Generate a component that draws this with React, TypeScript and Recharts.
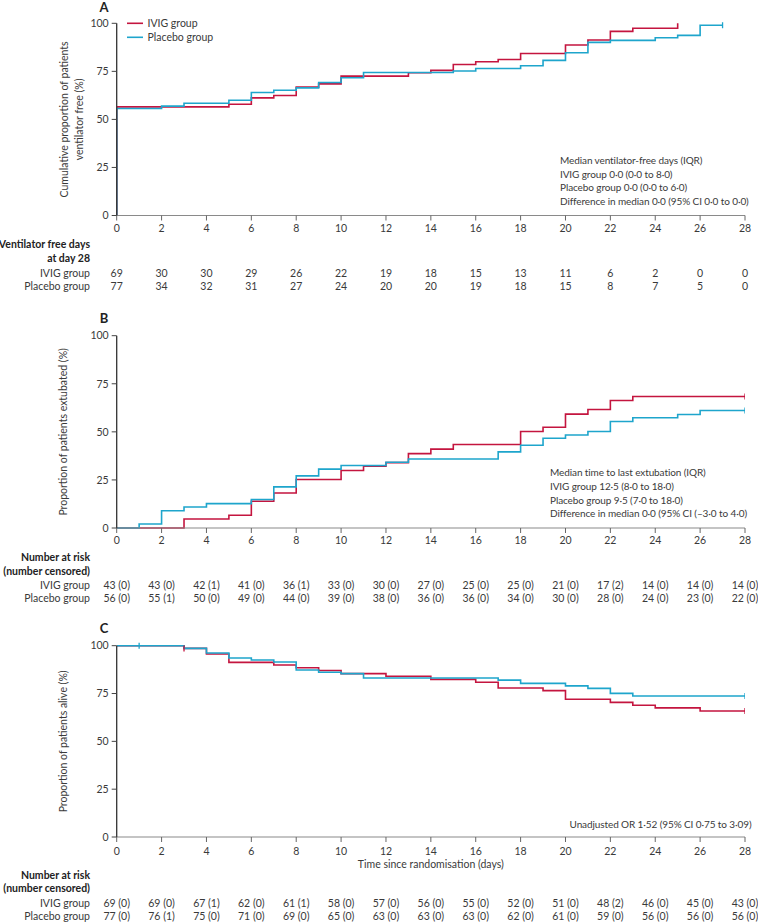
import React from 'react';
import { LineChart, Line, XAxis, YAxis, Customized } from 'recharts';

const FONT = "Lato, 'Noto Sans', sans-serif";
const FS = 10.5;
const FS_NOTE = 10;
const RED = '#c4153f';
const BLUE = '#1ea5cc';
const TXT = '#3a3a3a';

const DAY_TICKS = [0, 2, 4, 6, 8, 10, 12, 14, 16, 18, 20, 22, 24, 26, 28];
const PCT_TICKS = [0, 25, 50, 75, 100];

// Panel A: cumulative proportion ventilator free
const A_IVIG: number[][] = [[0, 0], [0, 56.5], [5, 57.9], [6, 61.2], [7, 62.4], [8, 66.8], [9, 68.5], [10, 72.5], [13, 74.3], [14, 75.5], [15, 78.6], [16, 80], [17, 81.2], [18, 84.3], [20, 88.7], [21, 91.3], [22, 95.8], [23, 97.4], [25, 100]];
const A_PLAC: number[][] = [[0, 0], [0, 55.7], [2, 56.9], [3, 58.4], [5, 60], [6, 64], [7, 65.2], [8, 66.4], [9, 69.2], [10, 71.7], [11, 74.4], [15, 75.2], [16, 76.5], [18, 77.9], [19, 80.7], [20, 84.7], [21, 90.1], [22, 91.1], [24, 92.5], [25, 93.7], [26, 99], [27, 99]];
const A_IVIG_CENS: number[] = [];
const A_PLAC_CENS: number[] = [27];
const A_IVIG_TBL = [69, 30, 30, 29, 26, 22, 19, 18, 15, 13, 11, 6, 2, 0, 0];
const A_PLAC_TBL = [77, 34, 32, 31, 27, 24, 20, 20, 19, 18, 15, 8, 7, 5, 0];

// Panel B: proportion extubated
const B_IVIG: number[][] = [[0, 0], [3, 4.7], [5, 6.6], [6, 13.9], [7, 18.2], [8, 25.2], [10, 29.9], [11, 32.1], [12, 34], [13, 38.7], [14, 41], [15, 43.4], [18, 50.2], [19, 52.4], [20, 59.2], [21, 61.6], [22, 66.3], [23, 68.4], [28, 68.4]];
const B_PLAC: number[][] = [[0, 0], [1, 2.1], [2, 9], [3, 10.9], [4, 12.7], [6, 14.8], [7, 21.4], [8, 27.1], [9, 30.6], [10, 32.5], [12, 34.2], [13, 35.9], [17, 39.6], [18, 43], [19, 46.7], [20, 48.4], [21, 50.2], [22, 55.4], [23, 57.3], [25, 59], [26, 61.1], [28, 61.1]];
const B_IVIG_CENS: number[] = [28];
const B_PLAC_CENS: number[] = [28];
const B_IVIG_RISK = [43, 43, 42, 41, 36, 33, 30, 27, 25, 25, 21, 17, 14, 14, 14];
const B_IVIG_CNS = [0, 0, 1, 0, 1, 0, 0, 0, 0, 0, 0, 2, 0, 0, 0];
const B_PLAC_RISK = [56, 55, 50, 49, 44, 39, 38, 36, 36, 34, 30, 28, 24, 23, 22];
const B_PLAC_CNS = [0, 1, 0, 0, 0, 0, 0, 0, 0, 0, 0, 0, 0, 0, 0];

// Panel C: proportion alive
const C_IVIG: number[][] = [[0, 100], [3, 98.6], [4, 95.7], [5, 91.3], [7, 89.9], [8, 88.5], [9, 87], [10, 85.4], [12, 84], [14, 82.4], [16, 80.9], [17, 77.9], [19, 76.5], [20, 72], [22, 70.4], [23, 68.9], [24, 67.5], [26, 65.9], [28, 65.9]];
const C_PLAC: number[][] = [[0, 100], [1, 100], [3, 98.6], [4, 96.2], [5, 93.6], [6, 92.5], [7, 91.5], [8, 87.3], [9, 86.1], [10, 85.4], [11, 83.1], [17, 82], [18, 80.3], [20, 79], [21, 77.7], [22, 75.1], [23, 73.7], [28, 73.7]];
const C_IVIG_CENS: number[] = [3, 28];
const C_PLAC_CENS: number[] = [1, 28];
const C_IVIG_RISK = [69, 69, 67, 62, 61, 58, 57, 56, 55, 52, 51, 48, 46, 45, 43];
const C_IVIG_CNS = [0, 0, 1, 0, 1, 0, 0, 0, 0, 0, 0, 2, 0, 0, 0];
const C_PLAC_RISK = [77, 76, 75, 71, 69, 65, 63, 63, 63, 62, 61, 59, 56, 56, 56];
const C_PLAC_CNS = [0, 1, 0, 0, 0, 0, 0, 0, 0, 0, 0, 0, 0, 0, 0];

type Pt = { t: number; v: number; c: boolean };
const toPts = (rows: number[][], cens: number[]): Pt[] =>
  rows.map((r, i) => ({ t: r[0], v: r[1], c: cens.includes(r[0]) && (i === rows.length - 1 || rows[i + 1][0] !== r[0]) }));

const withCens = (risk: number[], cns: number[]) => risk.map((r, i) => `${r} (${cns[i]})`);

const censorDot = (color: string) => (props: any) => {
  const { cx, cy, payload, index } = props;
  if (!payload || !payload.c || cx == null || cy == null) return <g key={`n${index}`} />;
  return <line key={`c${index}`} x1={cx} x2={cx} y1={cy - 3} y2={cy + 3} stroke={color} strokeWidth={1.3} />;
};

type Row = { dy: number; values: (string | number)[] };
type Head = { dy: number; text: string; bold?: boolean };

interface PanelProps {
  top: number;
  height: number;
  plotTop: number;
  plotBottom: number;
  ivig: Pt[];
  placebo: Pt[];
  letter: string;
  letterY: number;
  yLabels: { x: number; text: string }[];
  notes: { x: number; y: number; text: string; anchor?: 'start' | 'end' }[];
  tickDy: number;
  rows: Row[];
  heads: Head[];
  legend?: boolean;
  xTitle?: { dy: number; text: string };
}

function Panel(p: PanelProps) {
  const W = 758;
  const left = 116.7;
  const right = 745;
  const axisY = p.plotBottom;
  const yMid = (p.plotTop + p.plotBottom) / 2;

  const tick = (props: any) => {
    const { x, payload } = props;
    const idx = DAY_TICKS.indexOf(payload.value);
    return (
      <g key={`t${payload.value}`}>
        <text x={x} y={axisY + p.tickDy} textAnchor="middle" dominantBaseline="central" fontFamily={FONT} fontSize={FS} fill={TXT}>
          {payload.value}
        </text>
        {p.rows.map((r, ri) => (
          <text key={ri} x={x} y={axisY + r.dy} textAnchor="middle" dominantBaseline="central" fontFamily={FONT} fontSize={FS} fill={TXT}>
            {r.values[idx]}
          </text>
        ))}
      </g>
    );
  };

  const Decor = () => (
    <g>
      <text x={104} y={p.letterY} textAnchor="middle" dominantBaseline="central" fontFamily={FONT} fontSize={13} fontWeight="bold" fill="#222">
        {p.letter}
      </text>
      {p.yLabels.map((l, i) => (
        <text key={i} x={l.x} y={yMid} transform={`rotate(-90 ${l.x} ${yMid})`} textAnchor="middle" dominantBaseline="central" fontFamily={FONT} fontSize={FS} fill={TXT}>
          {l.text}
        </text>
      ))}
      {p.notes.map((n, i) => (
        <text key={i} x={n.x} y={n.y} textAnchor={n.anchor || 'start'} dominantBaseline="central" fontFamily={FONT} fontSize={FS_NOTE} letterSpacing={-0.1} fill={TXT}>
          {n.text}
        </text>
      ))}
      {p.heads.map((h, i) => (
        <text key={i} x={90} y={axisY + h.dy} textAnchor="end" dominantBaseline="central" fontFamily={FONT} fontSize={FS} fontWeight={h.bold ? 'bold' : 'normal'} fill={h.bold ? '#222' : TXT}>
          {h.text}
        </text>
      ))}
      {p.xTitle && (
        <text x={(left + right) / 2} y={axisY + p.xTitle.dy} textAnchor="middle" dominantBaseline="central" fontFamily={FONT} fontSize={FS} fill={TXT}>
          {p.xTitle.text}
        </text>
      )}
      {p.legend && (
        <g>
          <line x1={127} x2={143} y1={p.plotTop} y2={p.plotTop} stroke={RED} strokeWidth={1.6} />
          <text x={147.5} y={p.plotTop} dominantBaseline="central" fontFamily={FONT} fontSize={FS} fill={TXT}>IVIG group</text>
          <line x1={127} x2={143} y1={p.plotTop + 14} y2={p.plotTop + 14} stroke={BLUE} strokeWidth={1.6} />
          <text x={147.5} y={p.plotTop + 14} dominantBaseline="central" fontFamily={FONT} fontSize={FS} fill={TXT}>Placebo group</text>
        </g>
      )}
    </g>
  );

  return (
    <div style={{ position: 'absolute', left: 0, top: p.top, width: W, height: p.height }}>
      <LineChart width={W} height={p.height} margin={{ top: p.plotTop, right: W - right, left: left - 60, bottom: 0 }}>
        <XAxis
          dataKey="t"
          type="number"
          domain={[0, 28]}
          ticks={DAY_TICKS}
          interval={0}
          allowDataOverflow
          height={p.height - p.plotBottom}
          tickSize={5}
          tickMargin={0}
          axisLine={{ stroke: '#8a8a8a', strokeWidth: 1.2 }}
          tickLine={{ stroke: '#666', strokeWidth: 1 }}
          tick={tick}
        />
        <YAxis
          dataKey="v"
          type="number"
          domain={[0, 100]}
          ticks={PCT_TICKS}
          interval={0}
          width={60}
          tickSize={5}
          tickMargin={3}
          axisLine={{ stroke: '#333', strokeWidth: 1.3 }}
          tickLine={{ stroke: '#444', strokeWidth: 1 }}
          tick={{ fontFamily: FONT, fontSize: FS, fill: TXT }}
        />
        <Line data={p.ivig} dataKey="v" type="stepAfter" stroke={RED} strokeWidth={1.6} dot={censorDot(RED)} activeDot={false} isAnimationActive={false} />
        <Line data={p.placebo} dataKey="v" type="stepAfter" stroke={BLUE} strokeWidth={1.6} dot={censorDot(BLUE)} activeDot={false} isAnimationActive={false} />
        <Customized component={Decor} />
      </LineChart>
    </div>
  );
}

export default function App() {
  return (
    <div style={{ position: 'absolute', left: 0, top: 0, width: 758, height: 922, background: '#fff' }}>
      <Panel
        top={0}
        height={310}
        plotTop={23.3}
        plotBottom={215.5}
        ivig={toPts(A_IVIG, A_IVIG_CENS)}
        placebo={toPts(A_PLAC, A_PLAC_CENS)}
        letter="A"
        letterY={6.5}
        legend
        yLabels={[{ x: 64, text: 'Cumulative proportion of patients' }, { x: 79, text: 'ventilator free (%)' }]}
        notes={[
          { x: 560, y: 160, text: 'Median ventilator-free days (IQR)' },
          { x: 560, y: 173.5, text: 'IVIG group 0·0 (0·0 to 8·0)' },
          { x: 560, y: 187.3, text: 'Placebo group 0·0 (0·0 to 6·0)' },
          { x: 560, y: 201.3, text: 'Difference in median 0·0 (95% CI 0·0 to 0·0)' },
        ]}
        tickDy={12.2}
        heads={[
          { dy: 28.5, text: 'Ventilator free days', bold: true },
          { dy: 42.2, text: 'at day 28', bold: true },
          { dy: 57.2, text: 'IVIG group' },
          { dy: 70.5, text: 'Placebo group' },
        ]}
        rows={[
          { dy: 57.2, values: A_IVIG_TBL },
          { dy: 70.5, values: A_PLAC_TBL },
        ]}
      />
      <Panel
        top={310}
        height={300}
        plotTop={25.7}
        plotBottom={218}
        ivig={toPts(B_IVIG, B_IVIG_CENS)}
        placebo={toPts(B_PLAC, B_PLAC_CENS)}
        letter="B"
        letterY={7.5}
        yLabels={[{ x: 63.5, text: 'Proportion of patients extubated (%)' }]}
        notes={[
          { x: 550, y: 162.3, text: 'Median time to last extubation (IQR)' },
          { x: 550, y: 175.7, text: 'IVIG group 12·5 (8·0 to 18·0)' },
          { x: 550, y: 190, text: 'Placebo group 9·5 (7·0 to 18·0)' },
          { x: 550, y: 203.3, text: 'Difference in median 0·0 (95% CI (–3·0 to 4·0)' },
        ]}
        tickDy={12}
        heads={[
          { dy: 29.3, text: 'Number at risk', bold: true },
          { dy: 42.7, text: '(number censored)', bold: true },
          { dy: 57.3, text: 'IVIG group' },
          { dy: 70.3, text: 'Placebo group' },
        ]}
        rows={[
          { dy: 57.3, values: withCens(B_IVIG_RISK, B_IVIG_CNS) },
          { dy: 70.3, values: withCens(B_PLAC_RISK, B_PLAC_CNS) },
        ]}
      />
      <Panel
        top={620}
        height={302}
        plotTop={25.7}
        plotBottom={217}
        ivig={toPts(C_IVIG, C_IVIG_CENS)}
        placebo={toPts(C_PLAC, C_PLAC_CENS)}
        letter="C"
        letterY={8}
        yLabels={[{ x: 63.5, text: 'Proportion of patients alive (%)' }]}
        notes={[{ x: 751.5, y: 204.3, text: 'Unadjusted OR 1·52 (95% CI 0·75 to 3·09)', anchor: 'end' }]}
        tickDy={13.7}
        xTitle={{ dy: 27, text: 'Time since randomisation (days)' }}
        heads={[
          { dy: 38, text: 'Number at risk', bold: true },
          { dy: 51.3, text: '(number censored)', bold: true },
          { dy: 66.3, text: 'IVIG group' },
          { dy: 79, text: 'Placebo group' },
        ]}
        rows={[
          { dy: 66.3, values: withCens(C_IVIG_RISK, C_IVIG_CNS) },
          { dy: 79, values: withCens(C_PLAC_RISK, C_PLAC_CNS) },
        ]}
      />
    </div>
  );
}
